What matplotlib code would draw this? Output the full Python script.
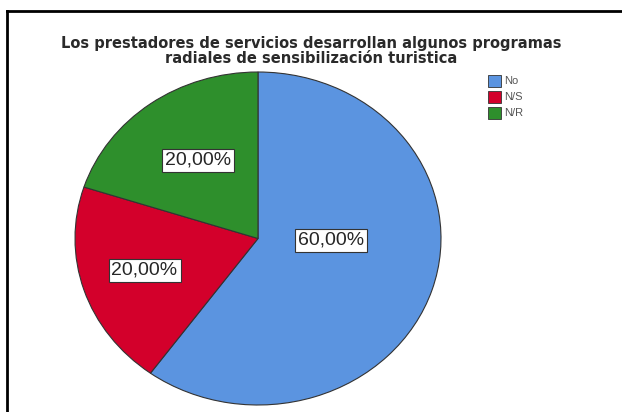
import matplotlib
matplotlib.use("Agg")
import matplotlib.pyplot as plt
from matplotlib.lines import Line2D

categories = ["No", "N/S", "N/R"]
values = [60.0, 20.0, 20.0]
pct_labels = ["60,00%", "20,00%", "20,00%"]
title = "Los prestadores de servicios desarrollan algunos programas\nradiales de sensibilización turistica"

colors = ["#5B94E0", "#D3002B", "#2E8F2C"]
label_pos = [(0.40, -0.01), (-0.62, -0.19), (-0.33, 0.47)]

plt.rcParams['font.family'] = ['Liberation Sans', 'DejaVu Sans']

fig = plt.figure(figsize=(6.22, 4.12), dpi=100)
fig.patch.set_facecolor("white")

ax = fig.add_axes([75/622, 7/412, 366/622, 333/412])
wedges, _ = ax.pie(values, colors=colors, startangle=90, counterclock=False,
                   wedgeprops=dict(edgecolor="#333333", linewidth=0.8))
ax.set_aspect('auto')
ax.set_xlim(-1, 1)
ax.set_ylim(-1, 1)
ax.axis('off')

for (x, y), t in zip(label_pos, pct_labels):
    ax.text(x, y, t, ha='center', va='center', fontsize=14, color="#262626",
            bbox=dict(boxstyle="square,pad=0.15", facecolor="white", edgecolor="#333333", linewidth=0.8))

fig.text(0.500, 1 - 51/412, title, ha='center', va='center', fontsize=10.5, fontweight='bold',
         family=['DejaVu Sans'], color="#2a2a2a", linespacing=1.0)

leg = fig.legend(wedges, categories, loc='upper left', bbox_to_anchor=(482/622, 1 - 69/412),
                 frameon=False, fontsize=8, handlelength=1.2, handleheight=1.3,
                 handletextpad=0.25, labelspacing=0.35, borderpad=0.0)
for h in leg.legend_handles:
    h.set_edgecolor("#333333")
    h.set_linewidth(0.6)
for t in leg.get_texts():
    t.set_color("#555555")

fig.add_artist(Line2D([7/622, 1.0], [1 - 11/412, 1 - 11/412], color="black", linewidth=2, transform=fig.transFigure))
fig.add_artist(Line2D([7/622, 7/622], [0, 1 - 11/412], color="black", linewidth=2, transform=fig.transFigure))

fig.savefig("out.png", dpi=100)
